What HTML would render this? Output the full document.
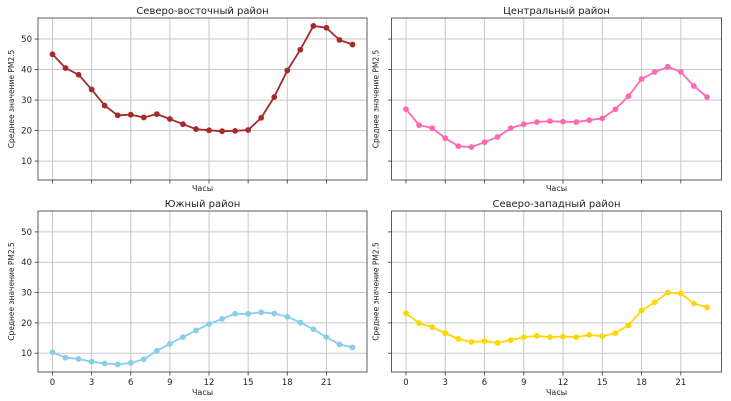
<!DOCTYPE html>
<html><head><meta charset="utf-8"><style>
html,body{margin:0;padding:0;background:#fff;width:731px;height:401px;overflow:hidden}
svg text{font-family:"DejaVu Sans","Liberation Sans",sans-serif;fill:#222}
</style></head><body>
<svg id="s" width="731" height="401" xmlns="http://www.w3.org/2000/svg"></svg>
<script>
const panels=[
 {t:"Северо-восточный район",c:"#a52a2a",x0:38,x1:367,y0:18,y1:180,xl:false,
  d:[45,40.5,38.3,33.5,28.2,25,25.2,24.3,25.4,23.8,22.1,20.5,20.1,19.8,19.9,20.2,24.2,31,39.7,46.5,54.3,53.7,49.7,48.2],yl:true},
 {t:"Центральный район",c:"#ff69b4",x0:391.5,x1:721.5,y0:18,y1:180,xl:false,
  d:[27,21.8,20.8,17.5,14.9,14.6,16.2,17.9,20.8,22.1,22.8,23.1,22.9,22.8,23.4,24,27,31.3,36.9,39.2,40.9,39.2,34.6,31],yl:false},
 {t:"Южный район",c:"#87ceeb",x0:38,x1:367,y0:211,y1:372,xl:true,
  d:[10.3,8.5,8.1,7.2,6.6,6.3,6.8,8,10.8,13.1,15.3,17.5,19.6,21.3,23,23,23.5,23.1,22,20.1,17.9,15.3,12.9,11.9],yl:true},
 {t:"Северо-западный район",c:"#ffd700",x0:391.5,x1:721.5,y0:211,y1:372,xl:true,
  d:[23.2,19.9,18.6,16.6,14.7,13.7,14,13.4,14.3,15.3,15.7,15.3,15.5,15.3,16,15.6,16.6,19.2,24.1,26.8,30,29.7,26.4,25.1],yl:false}
];
let h="";
for(const p of panels){
 const xs=p.x0+14.5, k=(p.x1-p.x0-29)/23;
 const X=i=>xs+i*k;
 const vmin=3.8,vmax=56.9;
 const Y=v=>p.y1-(v-vmin)/(vmax-vmin)*(p.y1-p.y0);
 for(let i=0;i<=21;i+=3){h+=`<line x1="${X(i)}" x2="${X(i)}" y1="${p.y0}" y2="${p.y1}" stroke="#c8c8c8" stroke-width="1"/>`;
  h+=`<line x1="${X(i)}" x2="${X(i)}" y1="${p.y1}" y2="${p.y1+3.5}" stroke="#333" stroke-width="0.8"/>`;
  if(p.xl)h+=`<text x="${X(i)}" y="${p.y1+13}" font-size="8.5" text-anchor="middle">${i}</text>`;}
 for(let v=10;v<=50;v+=10){h+=`<line x1="${p.x0}" x2="${p.x1}" y1="${Y(v)}" y2="${Y(v)}" stroke="#c8c8c8" stroke-width="1"/>`;
  h+=`<line x1="${p.x0-3.5}" x2="${p.x0}" y1="${Y(v)}" y2="${Y(v)}" stroke="#333" stroke-width="0.8"/>`;
  if(p.yl)h+=`<text x="${p.x0-6}" y="${Y(v)+3}" font-size="8.5" text-anchor="end">${v}</text>`;}
 h+=`<rect x="${p.x0}" y="${p.y0}" width="${p.x1-p.x0}" height="${p.y1-p.y0}" fill="none" stroke="#333" stroke-width="0.8"/>`;
 const pts=p.d.map((v,i)=>`${X(i).toFixed(1)},${Y(v).toFixed(1)}`).join(" ");
 h+=`<polyline points="${pts}" fill="none" stroke="${p.c}" stroke-width="1.8"/>`;
 p.d.forEach((v,i)=>h+=`<circle cx="${X(i)}" cy="${Y(v)}" r="2.9" fill="${p.c}"/>`);
 h+=`<text x="${(p.x0+p.x1)/2}" y="${p.y0-4}" font-size="10" text-anchor="middle">${p.t}</text>`;
 h+=`<text x="${(p.x0+p.x1)/2}" y="${p.y1+(p.xl?23:11)}" font-size="8" text-anchor="middle">Часы</text>`;
 const cy=(p.y0+p.y1)/2, lx=p.x0-(p.yl?24:13);
 h+=`<text transform="translate(${lx},${cy}) rotate(-90)" font-size="7.5" text-anchor="middle">Среднее значение PM2.5</text>`;
}
document.getElementById("s").innerHTML=h;
</script>
</body></html>
